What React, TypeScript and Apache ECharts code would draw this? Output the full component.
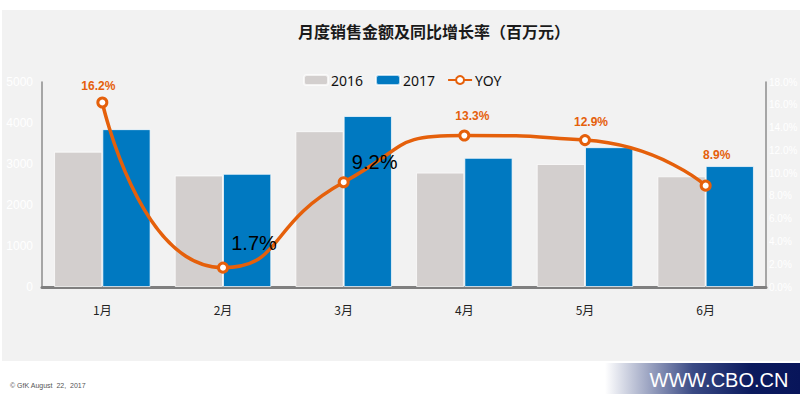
import React, { useEffect, useRef } from "react";
import * as echarts from "echarts";

const categories = ["1月", "2月", "3月", "4月", "5月", "6月"];
const sales2016 = [3300, 2720, 3800, 2790, 3000, 2700];
const sales2017 = [3850, 2760, 4170, 3150, 3410, 2950];
const yoy = [16.2, 1.7, 9.2, 13.3, 12.9, 8.9];
const yoyLabelStyle = ["accent", "plain", "plain", "accent", "accent", "accent"];
const yoyLabelOffsets = [[-4, 0], [31, -4], [31, 1], [8, -3], [6, -1], [11, -14]];

const ORANGE = "#e5600b";

export default function App() {
  const ref = useRef<HTMLDivElement>(null);
  useEffect(() => {
    const chart = echarts.init(ref.current!, null, { renderer: "svg" });
    const option: any = {
      animation: false,
      backgroundColor: "#ffffff",
      graphic: [
        {
          type: "rect",
          z: -10,
          silent: true,
          shape: { x: 2, y: 10, width: 798, height: 351 },
          style: { fill: "#f2f2f2" },
        },
        {
          type: "rect",
          z: -10,
          silent: true,
          shape: { x: 605, y: 363, width: 195, height: 31 },
          style: {
            fill: new echarts.graphic.LinearGradient(0, 0, 1, 0, [
              { offset: 0, color: "rgba(255,255,255,1)" },
              { offset: 0.45, color: "#3a4a85" },
              { offset: 0.75, color: "#0b1a5e" },
              { offset: 1, color: "#08155a" },
            ]),
          },
        },
        {
          type: "text",
          x: 719,
          y: 380,
          style: {
            text: "WWW.CBO.CN",
            fill: "#ffffff",
            font: "20px 'Liberation Sans', Arial, sans-serif",
            align: "center",
            verticalAlign: "middle",
          },
        },
        {
          type: "text",
          x: 10,
          y: 385,
          style: {
            text: "© GfK August  22,  2017",
            fill: "#555555",
            font: "7px 'Liberation Sans', Arial, sans-serif",
            verticalAlign: "middle",
          },
        },
      ],
      title: {
        text: "月度销售金额及同比增长率（百万元）",
        left: 429,
        textAlign: "center",
        top: 18,
        textStyle: {
          fontFamily: "'Noto Sans CJK SC', sans-serif",
          fontSize: 16,
          fontWeight: "bold",
          color: "#1a1a1a",
        },
      },
      legend: {
        left: 303,
        top: 73,
        padding: 0,
        itemWidth: 24,
        itemHeight: 10,
        itemGap: 12,
        textStyle: {
          fontFamily: "'Noto Sans', 'Liberation Sans', sans-serif",
          fontSize: 14,
          color: "#111",
          padding: [0, 0, 0, -2],
        },
        data: ["2016", "2017", "YOY"],
      },
      grid: { left: 42, right: 34, top: 82, bottom: 107, outerBoundsMode: "none", containLabel: false },
      xAxis: {
        type: "category",
        data: categories,
        axisLine: { lineStyle: { color: "#7f7f7f", width: 3 } },
        axisTick: { show: false },
        axisLabel: {
          margin: 16,
          fontFamily: "'Noto Sans CJK SC', sans-serif",
          fontSize: 12,
          color: "#222",
        },
      },
      yAxis: [
        {
          type: "value",
          min: 0,
          max: 5000,
          interval: 1000,
          splitLine: { show: false },
          axisLine: { show: true, lineStyle: { color: "#8c8c8c", width: 1.5 } },
          axisTick: { show: false },
          axisLabel: {
            color: "#ffffff",
            fontSize: 12,
            margin: 9,
            fontFamily: "'Liberation Sans', Arial, sans-serif",
            formatter: (v: number) => String(v),
          },
        },
        {
          type: "value",
          min: 0,
          max: 18,
          interval: 2,
          splitLine: { show: false },
          axisLine: { show: true, lineStyle: { color: "#8c8c8c", width: 1.5 } },
          axisTick: { show: false },
          axisLabel: {
            color: "#ffffff",
            fontSize: 10,
            margin: 3,
            fontFamily: "'Liberation Sans', Arial, sans-serif",
            formatter: (v: number) => v.toFixed(1) + "%",
          },
        },
      ],
      series: [
        {
          name: "2016",
          type: "bar",
          data: sales2016,
          barGap: "0%",
          barCategoryGap: "20%",
          itemStyle: { color: "#d3cfce", borderColor: "rgba(255,255,255,0.7)", borderWidth: 1 },
        },
        {
          name: "2017",
          type: "bar",
          data: sales2017,
          barGap: "0%",
          barCategoryGap: "20%",
          itemStyle: { color: "#0079c1", borderColor: "rgba(255,255,255,0.7)", borderWidth: 1 },
        },
        {
          name: "YOY",
          type: "line",
          yAxisIndex: 1,
          smooth: 0.6,
          symbol: "circle",
          symbolSize: 9,
          lineStyle: { color: ORANGE, width: 3.5 },
          itemStyle: { color: "#ffffff", borderColor: ORANGE, borderWidth: 3 },
          z: 5,
          data: yoy.map((v, i) => ({
            value: v,
            label: {
              show: true,
              position: "top",
              offset: yoyLabelOffsets[i],
              formatter: (p: any) => p.value.toFixed(1) + "%",
              ...(yoyLabelStyle[i] === "accent"
                ? {
                    color: ORANGE,
                    fontSize: 12,
                    fontWeight: "bold",
                    fontFamily: "'Liberation Sans', Arial, sans-serif",
                  }
                : {
                    color: "#000000",
                    fontSize: 20,
                    fontWeight: "normal",
                    fontFamily: "'Liberation Sans', Arial, sans-serif",
                  }),
            },
          })),
        },
      ],
    };
    chart.setOption(option);
    return () => chart.dispose();
  }, []);
  return <div ref={ref} style={{ width: 800, height: 394, position: "fixed", left: 0, top: 0 }} />;
}
